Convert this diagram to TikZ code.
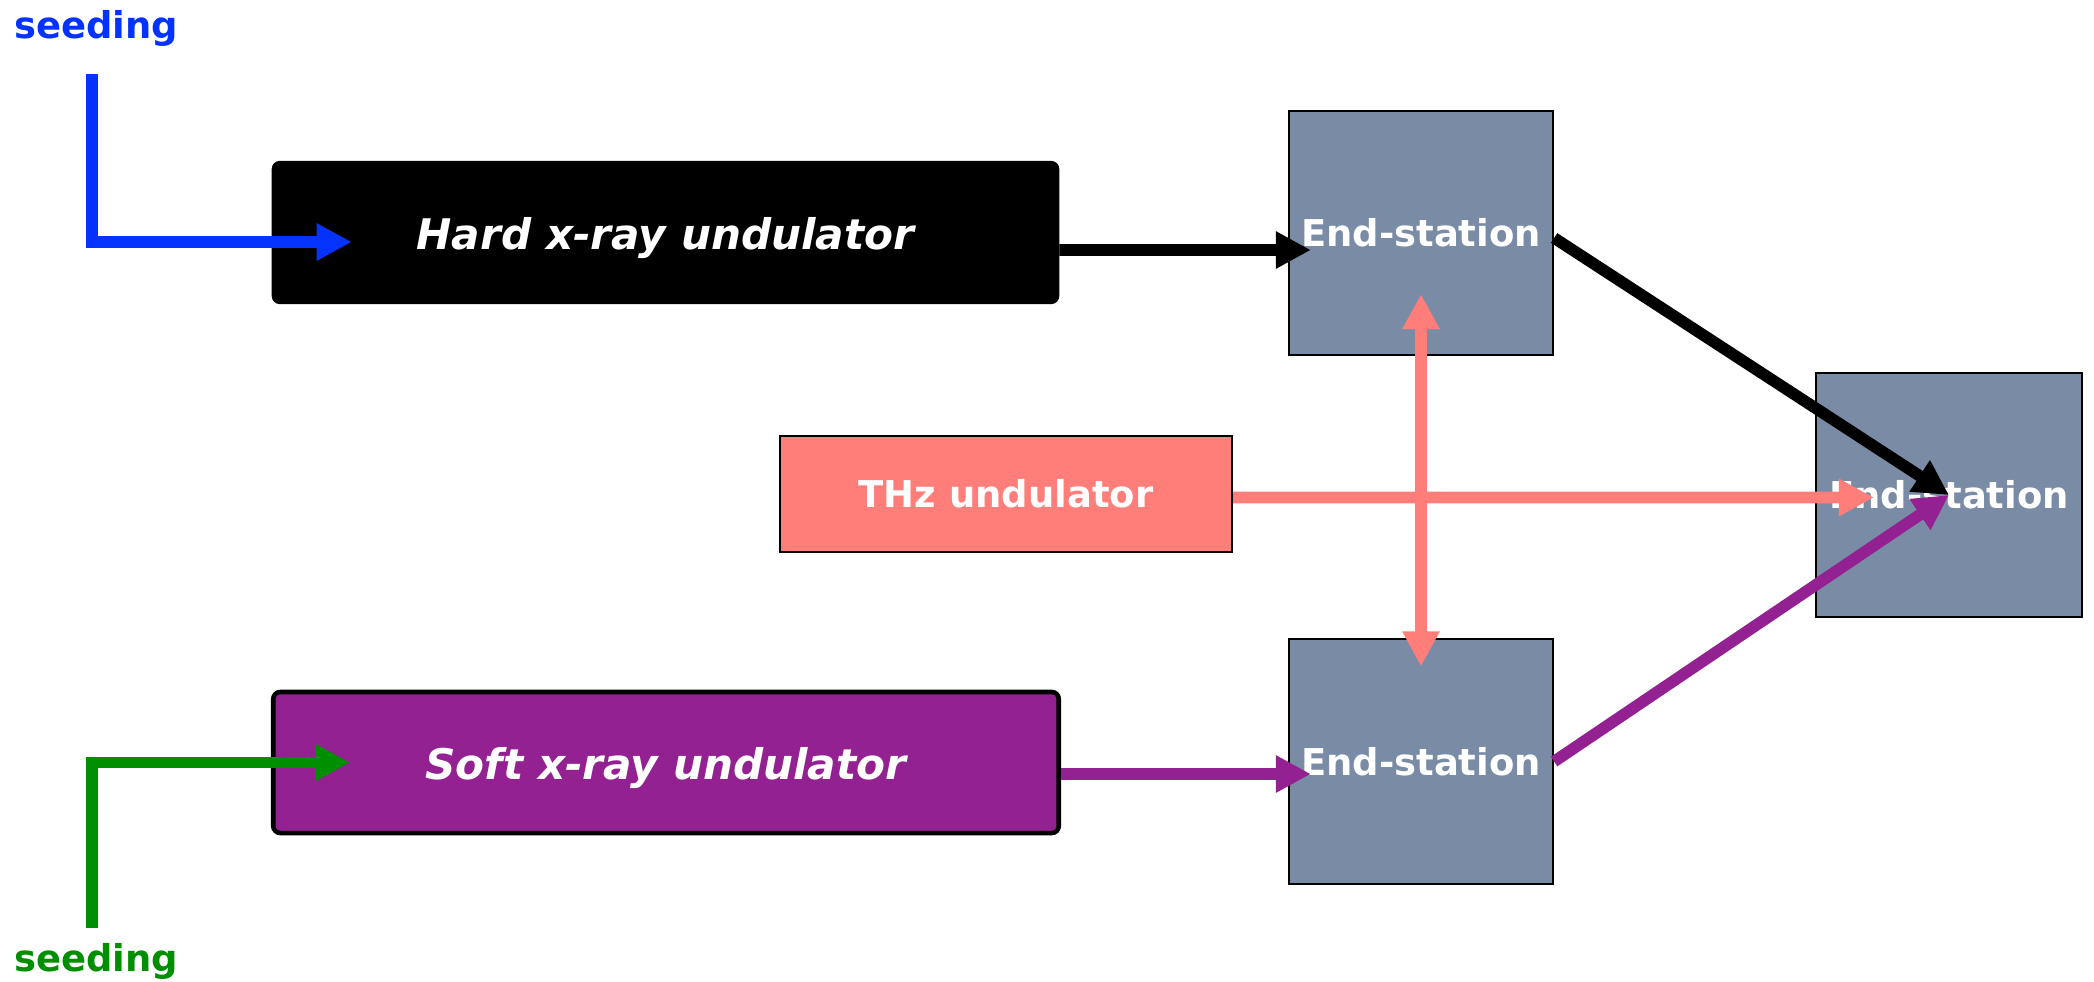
\documentclass[tikz,border=0pt]{standalone}
\usepackage{fontspec}
\setmainfont{DejaVu Sans}
\usetikzlibrary{arrows.meta}
\definecolor{seedblue}{HTML}{0433FF}
\definecolor{seedgreen}{HTML}{008F00}
\definecolor{softpurple}{HTML}{942192}
\definecolor{thzsalmon}{HTML}{FF7E79}
\definecolor{slate}{HTML}{7A8CA5}

\begin{document}
\begin{tikzpicture}[x=0.01cm,y=-0.01cm,
  esbox/.style={draw=black,line width=0.6pt,fill=slate,text=white,
    font=\fontsize{10.5}{12}\selectfont\bfseries,
    minimum width=2.64cm,minimum height=2.44cm,inner sep=0pt},
  undbox/.style={text=white,minimum width=7.85cm,minimum height=1.41cm,
    inner sep=0pt,rounded corners=2pt,text height=12.5pt,text depth=3pt,
    font=\fontsize{12}{14}\selectfont\bfseries\itshape},
  beam/.style={line width=3.3pt,-{Triangle[length=0.35cm,width=0.35cm]}},
  lbl/.style={font=\fontsize{10.5}{12}\selectfont\bfseries}]
  \useasboundingbox (0,0) rectangle (2094,982);
  % undulators
  \node[undbox,fill=black,draw=black,line width=0.6pt] (hard) at (665.5,232.5) {Hard x-ray undulator};
  \node[undbox,fill=softpurple,draw=black,line width=1.3pt] (soft) at (666,762.5) {Soft x-ray undulator};
  \node[draw=black,line width=0.6pt,fill=thzsalmon,text=white,lbl,
    minimum width=4.52cm,minimum height=1.16cm,inner sep=0pt] (thz) at (1006,494) {THz undulator};
  % end-stations
  \node[esbox] (es1) at (1421,233) {End-station};
  \node[esbox] (es2) at (1421,761.5) {End-station};
  \node[esbox,minimum width=2.66cm] (es3) at (1949,495) {End-station};
  % seeding
  \node[lbl,text=seedblue] (seedtxt1) at (96,28.5) {seeding};
  \node[lbl,text=seedgreen] (seedtxt2) at (96,961) {seeding};
  \coordinate (seed1) at (92,74);
  \coordinate (seed2) at (92,928);
  \draw[beam,seedblue] (seed1) |- ([xshift=0.8cm,yshift=-0.095cm]hard.west);
  \draw[beam,seedgreen] (seed2) |- ([xshift=0.79cm]soft.west);
  % beams to the end-stations
  \draw[beam,black] ([yshift=-0.175cm]hard.east) -- ([xshift=0.23cm,yshift=-0.17cm]es1.west);
  \draw[beam,softpurple] ([yshift=-0.115cm]soft.east) -- ([xshift=0.23cm,yshift=-0.125cm]es2.west);
  \draw[beam,thzsalmon] ([yshift=-0.035cm]thz.east) -- ([xshift=0.59cm,yshift=-0.025cm]es3.west);
  \draw[beam,thzsalmon,{Triangle[length=0.35cm,width=0.35cm]}-{Triangle[length=0.35cm,width=0.35cm]}]
    ([yshift=0.62cm]es1.south) -- ([yshift=-0.28cm]es2.north);
  \draw[beam,black] ([yshift=-0.05cm]es1.east) -- (es3.center);
  \draw[beam,softpurple] (es2.east) -- (es3.center);
\end{tikzpicture}
\end{document}
